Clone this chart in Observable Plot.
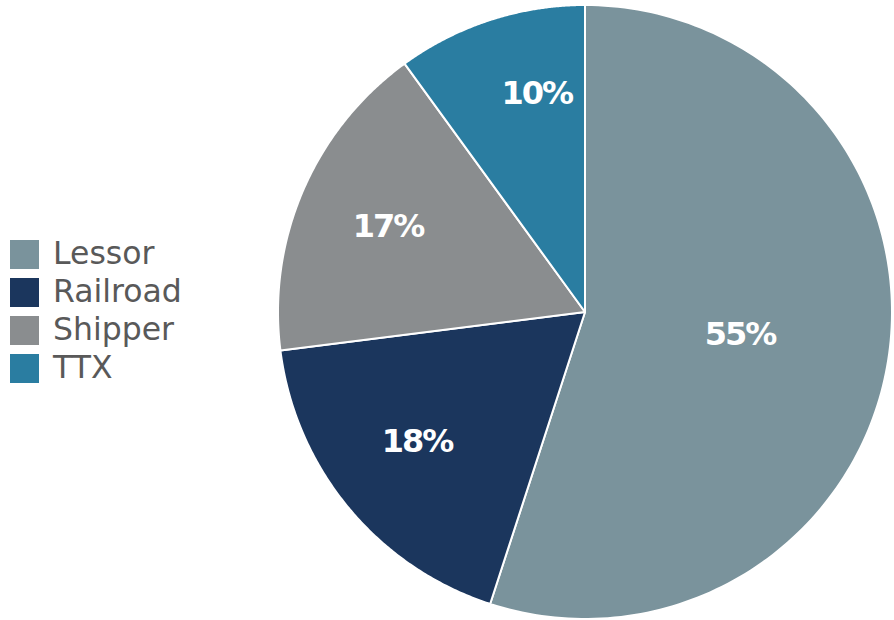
<!DOCTYPE html>
<html>
<head>
<meta charset="utf-8">
<script src="https://cdn.jsdelivr.net/npm/d3@7"></script>
<script src="https://cdn.jsdelivr.net/npm/@observablehq/plot@0.6"></script>
<style>
  body { margin: 0; background: #fff; }
  #wrap { position: relative; width: 894px; height: 620px; }
  #legend { position: absolute; left: 10px; top: 235.5px; font-family: "DejaVu Sans", Verdana, sans-serif; font-size: 31.5px; color: #595959; }
  .row { display: flex; align-items: center; height: 38px; }
  .sw { width: 29px; height: 29px; margin-right: 14px; flex: none; }
  .row span { line-height: 29px; position: relative; top: -1px; }
</style>
</head>
<body>
<div id="wrap"></div>
<script>
const categories = ["Lessor", "Railroad", "Shipper", "TTX"];
const shares = [55, 18, 17, 10];
const colors = ["#7a939c", "#1b365d", "#8a8d8f", "#2a7da1"];

const pie = d3.pie().sort(null).value(d => d.share).startAngle(0).endAngle(2 * Math.PI);
const arcs = pie(categories.map((c, i) => ({cat: c, share: shares[i]})));

const pts = [];
arcs.forEach(a => {
  const n = 160;
  for (let k = 0; k <= n; k++) {
    const t = a.startAngle + (a.endAngle - a.startAngle) * k / n;
    pts.push({cat: a.data.cat, x: Math.sin(t), y: Math.cos(t)});
  }
});

// label placement (radius fraction, angle shift in degrees) mimicking best-fit
const labelPos = {Lessor: [0.508, -1.1], Railroad: [0.689, 2.4], Shipper: [0.703, 0.4], TTX: [0.732, 5.5]};
const labels = arcs.map(a => {
  const [r, dDeg] = labelPos[a.data.cat];
  const m = (a.startAngle + a.endAngle) / 2 + dDeg * Math.PI / 180;
  return {cat: a.data.cat, text: a.data.share + "%", x: r * Math.sin(m), y: r * Math.cos(m)};
});

const chart = Plot.plot({
  width: 894,
  height: 620,
  marginLeft: 278,
  marginRight: 2,
  marginTop: 5,
  marginBottom: 1,
  x: {domain: [-1, 1], axis: null},
  y: {domain: [-1, 1], axis: null},
  color: {domain: categories, range: colors},
  style: {background: "white"},
  marks: [
    Plot.area(pts, {x1: "x", y1: "y", x2: 0, y2: 0, z: "cat", fill: "cat", stroke: "white", strokeWidth: 2, strokeLinejoin: "round"}),
    Plot.text(labels, {x: "x", y: "y", text: "text", fill: "white", fontSize: 32, fontWeight: "bold", fontFamily: "DejaVu Sans", dy: 1})
  ]
});
chart.querySelectorAll("text").forEach(t => t.setAttribute("letter-spacing", "-2"));
const wrap = document.getElementById("wrap");
wrap.appendChild(chart);

const legend = document.createElement("div");
legend.id = "legend";
categories.forEach((c, i) => {
  const row = document.createElement("div");
  row.className = "row";
  const sw = document.createElement("div");
  sw.className = "sw";
  sw.style.background = colors[i];
  const sp = document.createElement("span");
  sp.textContent = c;
  row.appendChild(sw);
  row.appendChild(sp);
  legend.appendChild(row);
});
wrap.appendChild(legend);
</script>
</body>
</html>
